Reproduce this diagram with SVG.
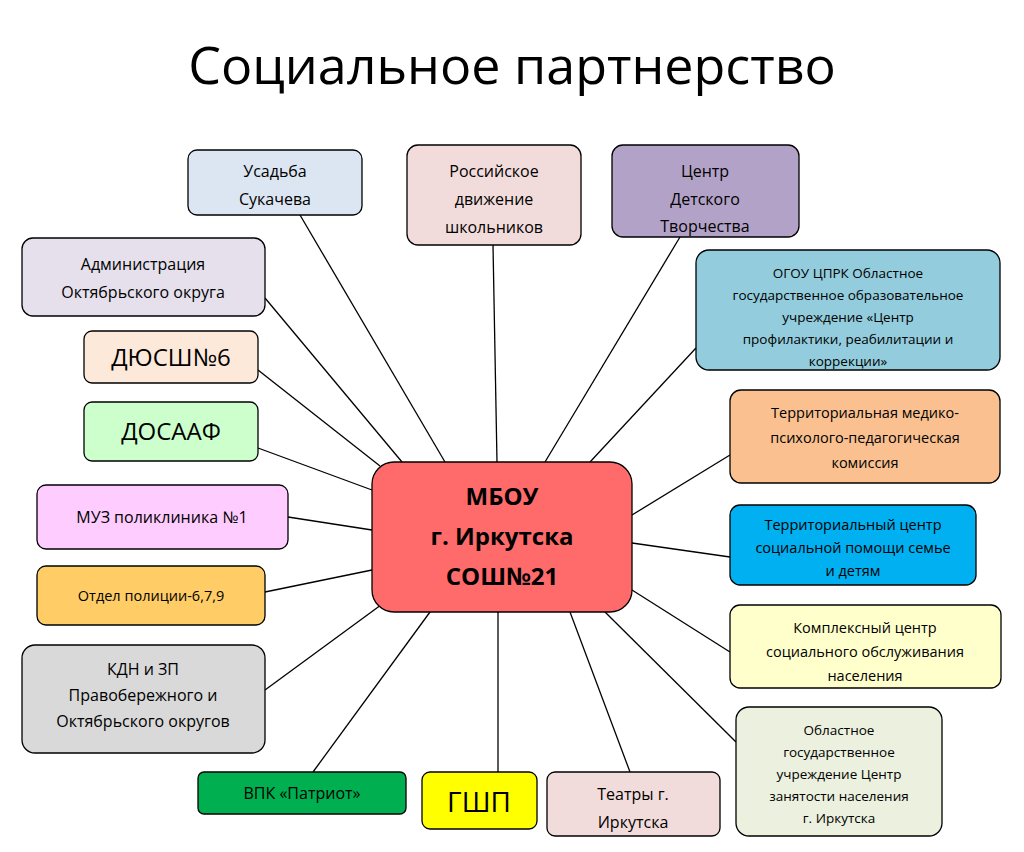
<svg xmlns="http://www.w3.org/2000/svg" width="1024" height="852" viewBox="0 0 1024 852">
<style>
.b{stroke:#000;stroke-width:1.3}
text{font-family:"Open Sans","Liberation Sans",sans-serif;fill:#000;text-anchor:middle}
.t{font-size:16px}.s{font-size:14.5px}.m{font-size:13.5px}.L{font-size:24px}
#conn line{stroke:#000;stroke-width:1.3}
</style>
<rect width="1024" height="852" fill="#fff"/>
<text x="512" y="84" style="font-size:52px">Социальное партнерство</text>
<g id="conn">
<line x1="300" y1="215" x2="445" y2="462"/>
<line x1="493" y1="245" x2="497" y2="462"/>
<line x1="680" y1="237" x2="545" y2="462"/>
<line x1="696" y1="348" x2="590" y2="462"/>
<line x1="730" y1="455" x2="632" y2="515"/>
<line x1="730" y1="557" x2="632" y2="543"/>
<line x1="730" y1="652" x2="632" y2="590"/>
<line x1="736" y1="742" x2="605" y2="612"/>
<line x1="630" y1="772" x2="570" y2="612"/>
<line x1="498" y1="772" x2="498" y2="612"/>
<line x1="313" y1="772" x2="430" y2="612"/>
<line x1="265" y1="690" x2="385" y2="602"/>
<line x1="265" y1="592" x2="372" y2="570"/>
<line x1="288" y1="517" x2="372" y2="530"/>
<line x1="258" y1="448" x2="372" y2="490"/>
<line x1="258" y1="370" x2="380" y2="466"/>
<line x1="265" y1="298" x2="402" y2="462"/>
</g>
<g id="center"><rect class="b" x="372" y="462" width="260" height="150" rx="22" fill="#ff6b6b"/>
<text x="502" y="505" style="font-size:24px;font-weight:bold">МБОУ</text>
<text x="502" y="545" style="font-size:24px;font-weight:bold">г. Иркутска</text>
<text x="502" y="585" style="font-size:24px;font-weight:bold">СОШ№21</text></g>
<g id="n1"><rect class="b" x="188" y="150" width="174" height="65" rx="9" fill="#dce6f2"/><text class="t" x="275" y="177">Усадьба</text><text class="t" x="275" y="205">Сукачева</text></g>
<g id="n2"><rect class="b" x="407" y="145" width="174" height="100" rx="11" fill="#f2dcdb"/><text class="t" x="494" y="177">Российское</text><text class="t" x="494" y="205">движение</text><text class="t" x="494" y="233">школьников</text></g>
<g id="n3"><rect class="b" x="612" y="145" width="187" height="92" rx="11" fill="#b3a2c7"/><text class="t" x="705" y="177">Центр</text><text class="t" x="705" y="205">Детского</text><text class="t" x="705" y="232">Творчества</text></g>
<g id="n4"><rect class="b" x="696" y="250" width="304" height="120" rx="13" fill="#93cddd"/><text class="m" x="848" y="278">ОГОУ ЦПРК Областное</text><text class="m" x="848" y="300">государственное образовательное</text><text class="m" x="848" y="322">учреждение «Центр</text><text class="m" x="848" y="344">профилактики, реабилитации и</text><text class="m" x="848" y="366">коррекции»</text></g>
<g id="n5"><rect class="b" x="730" y="390" width="270" height="93" rx="11" fill="#fac090"/><text class="s" x="865" y="418">Территориальная медико-</text><text class="s" x="865" y="443">психолого-педагогическая</text><text class="s" x="865" y="468">комиссия</text></g>
<g id="n6"><rect class="b" x="730" y="505" width="246" height="80" rx="10" fill="#00b0f0"/><text class="s" x="853" y="530">Территориальный центр</text><text class="s" x="853" y="553">социальной помощи семье</text><text class="s" x="853" y="576">и детям</text></g>
<g id="n7"><rect class="b" x="730" y="605" width="271" height="83" rx="10" fill="#ffffcc"/><text class="s" x="865" y="633">Комплексный центр</text><text class="s" x="865" y="657">социального обслуживания</text><text class="s" x="865" y="681">населения</text></g>
<g id="n8"><rect class="b" x="736" y="707" width="206" height="129" rx="13" fill="#ebf1de"/><text class="m" x="839" y="735">Областное</text><text class="m" x="839" y="757">государственное</text><text class="m" x="839" y="779">учреждение Центр</text><text class="m" x="839" y="801">занятости населения</text><text class="m" x="839" y="823">г. Иркутска</text></g>
<g id="n9"><rect class="b" x="547" y="772" width="173" height="64" rx="8" fill="#f2dcdb"/><text class="t" x="633" y="800">Театры г.</text><text class="t" x="633" y="828">Иркутска</text></g>
<g id="n10"><rect class="b" x="422" y="772" width="115" height="57" rx="8" fill="#ffff00"/><text x="479" y="812" style="font-size:28px">ГШП</text></g>
<g id="n11"><rect class="b" x="198" y="772" width="208" height="42" rx="6" fill="#00b050"/><text class="t" x="302" y="799">ВПК «Патриот»</text></g>
<g id="n12"><rect class="b" x="22" y="645" width="243" height="108" rx="13" fill="#d9d9d9"/><text class="t" x="143" y="675">КДН и ЗП</text><text class="t" x="143" y="701">Правобережного и</text><text class="t" x="143" y="727">Октябрьского округов</text></g>
<g id="n13"><rect class="b" x="37" y="566" width="228" height="59" rx="9" fill="#ffcc66"/><text class="s" x="151" y="601">Отдел полиции-6,7,9</text></g>
<g id="n14"><rect class="b" x="37" y="485" width="251" height="64" rx="9" fill="#ffccff"/><text class="t" x="162" y="523">МУЗ поликлиника №1</text></g>
<g id="n15"><rect class="b" x="84" y="402" width="174" height="59" rx="8" fill="#ccffcc"/><text class="L" x="171" y="440">ДОСААФ</text></g>
<g id="n16"><rect class="b" x="84" y="331" width="174" height="52" rx="8" fill="#fde9d9"/><text class="L" x="171" y="366">ДЮСШ№6</text></g>
<g id="n17"><rect class="b" x="22" y="238" width="243" height="78" rx="11" fill="#e6e0ec"/><text class="t" x="143" y="270">Администрация</text><text class="t" x="143" y="298">Октябрьского округа</text></g>
</svg>
